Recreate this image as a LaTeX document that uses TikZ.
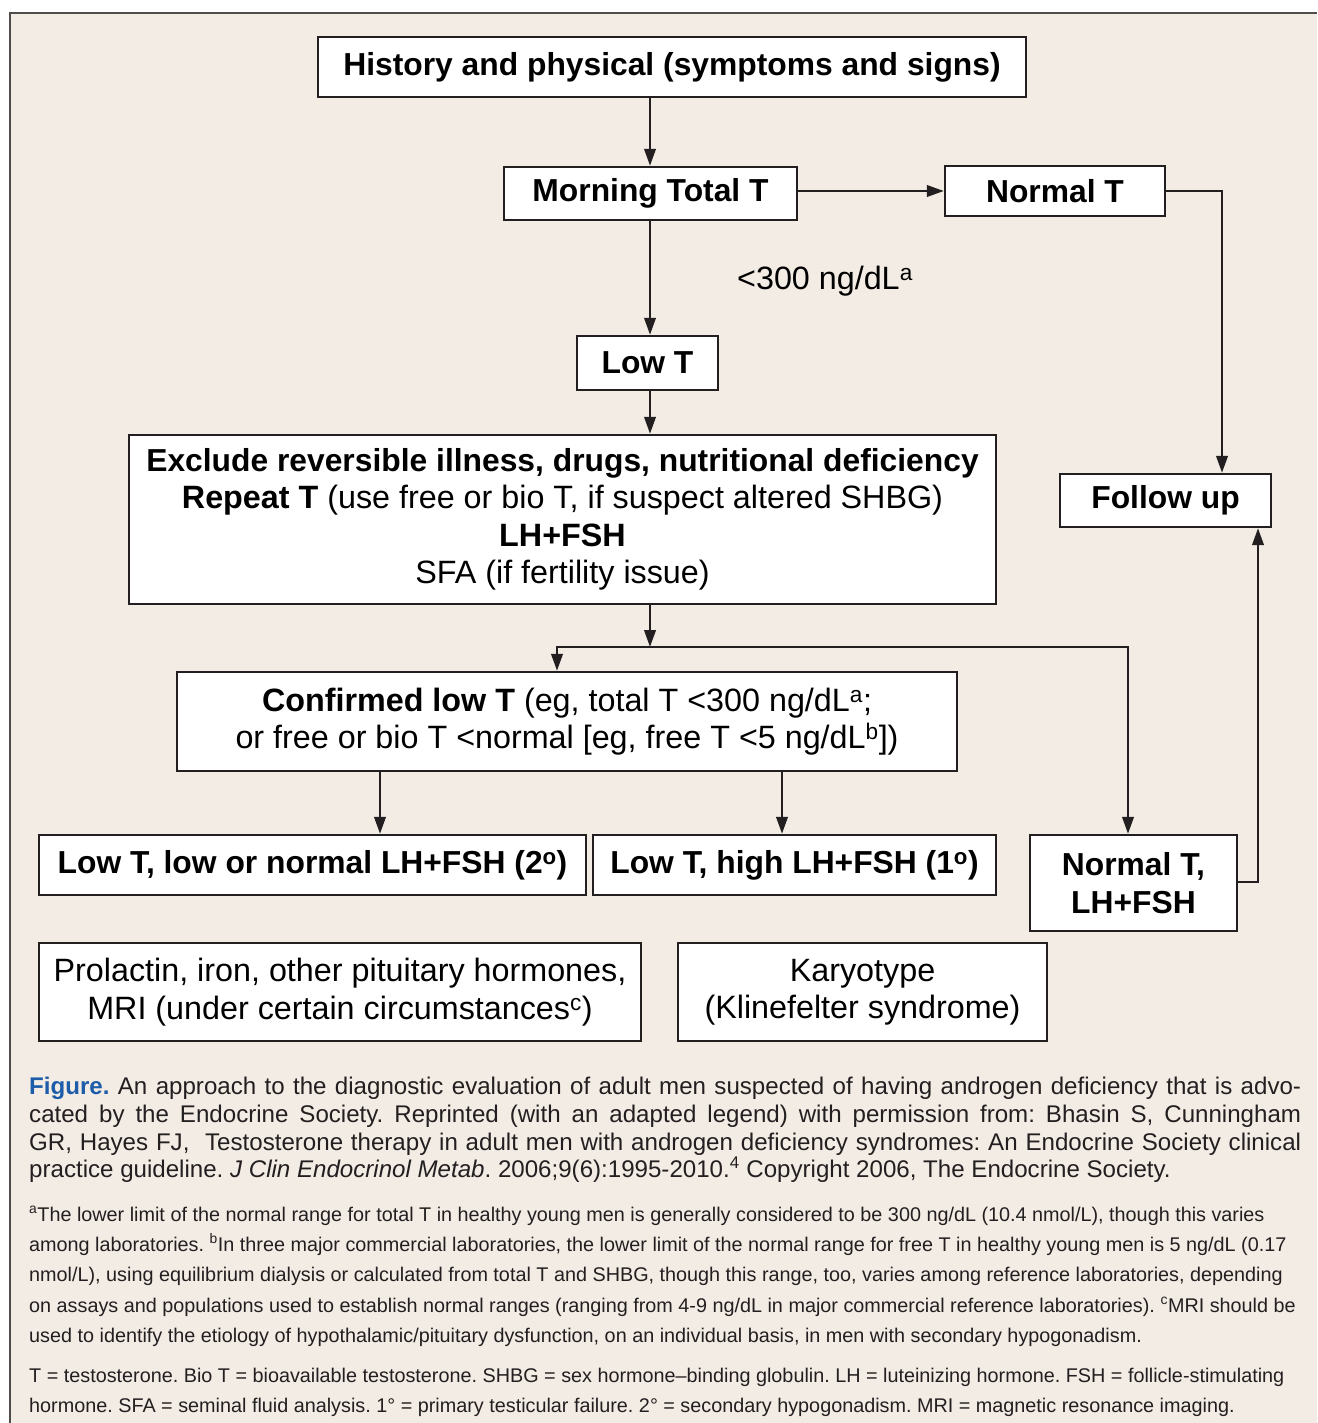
\documentclass[tikz,border=0pt]{standalone}
\usepackage{fontspec}
\setmainfont{Liberation Sans}
\usetikzlibrary{arrows.meta}
\frenchspacing
\definecolor{bg}{RGB}{243,236,229}
\definecolor{ink}{RGB}{35,31,32}
\definecolor{figblue}{RGB}{28,92,168}
\newcommand{\sline}[1]{\makebox[1272pt][s]{#1}}
\tikzset{
  box/.style={draw=ink, line width=2.4pt, fill=white, inner sep=0pt, align=center, text=black,
    font=\fontsize{32.3}{37.5}\selectfont},
  arr/.style={draw=ink, line width=2.4pt, -{Triangle[length=17pt,width=11.5pt]}},
  arrb/.style={draw=ink, line width=2.4pt, {Triangle[length=17pt,width=11.5pt]}-{Triangle[length=17pt,width=11.5pt]}},
}
\begin{document}
\begin{tikzpicture}[x=1pt,y=-1pt]
\useasboundingbox (0,0) rectangle (1317,1423);
\fill[white] (0,0) rectangle (1317,1423);
\fill[bg] (10,13) rectangle (1317,1423);
\draw[ink!80, line width=1.4pt] (10,1423) -- (10,13) -- (1317,13);

% nodes
\node[box, minimum width=708pt, minimum height=60pt, font=\fontsize{31.8}{37.5}\selectfont] (hist) at (672,67) {\textbf{History and physical (symptoms and signs)}};
\node[box, minimum width=293pt, minimum height=53pt, font=\fontsize{31.8}{37.5}\selectfont] (morning) at (650.5,193.5) {\textbf{Morning Total T}};
\node[box, minimum width=220pt, minimum height=50pt, font=\fontsize{31.8}{37.5}\selectfont] (normal) at (1055,191) {\textbf{Normal T}};
\node[box, minimum width=141pt, minimum height=54pt, font=\fontsize{31.8}{37.5}\selectfont] (lowt) at (647.5,363) {\textbf{Low T}};
\node[font=\fontsize{32.3}{37.5}\selectfont, inner sep=0pt] (lbl) at (825,281) {<300 ng/dL\textsuperscript{a}};
\node[box, minimum width=867pt, minimum height=169pt] (excl) at (562.5,519.5)
  {{\fontsize{31.8}{37.5}\selectfont\textbf{Exclude reversible illness, drugs, nutritional deficiency}}\\
   \textbf{Repeat T} (use free or bio T, if suspect altered SHBG)\\
   \textbf{LH+FSH}\\
   SFA (if fertility issue)};
\node[box, minimum width=211pt, minimum height=53pt, font=\fontsize{31.8}{37.5}\selectfont] (follow) at (1165.5,500.5) {\textbf{Follow up}};
\node[box, minimum width=780pt, minimum height=99pt] (conf) at (567,721.5)
  {\textbf{Confirmed low T} (eg, total T <300 ng/dL\textsuperscript{a};\\
   or free or bio T <normal [eg, free T <5 ng/dL\textsuperscript{b}])};
\node[box, minimum width=547pt, minimum height=60pt, font=\fontsize{31.8}{37.5}\selectfont] (sec) at (312.5,865) {\textbf{Low T, low or normal LH+FSH (2\textsuperscript{o})}};
\node[box, minimum width=403pt, minimum height=60pt, font=\fontsize{31.8}{37.5}\selectfont] (prim) at (794.5,865) {\textbf{Low T, high LH+FSH (1\textsuperscript{o})}};
\node[box, minimum width=207pt, minimum height=96pt, font=\fontsize{31.8}{37.5}\selectfont] (normlh) at (1133.5,883) {\textbf{Normal T,}\\\textbf{LH+FSH}};
\node[box, minimum width=602pt, minimum height=98pt] (prol) at (340,992)
  {Prolactin, iron, other pituitary hormones,\\MRI (under certain circumstances\textsuperscript{c})};
\node[box, minimum width=369pt, minimum height=98pt] (kary) at (862.5,992)
  {Karyotype\\(Klinefelter syndrome)};

% helper coordinates
\coordinate (colx) at (650,0);
\coordinate (split) at (650,647);
\coordinate (L) at (557,647);
\coordinate (R) at (1128,647);
\coordinate (c380) at (380,0);
\coordinate (c782) at (782,0);
\coordinate (fuin) at (1222,0);
\coordinate (fuout) at (1258,0);

% connectors
\draw[arr] (hist.south -| colx) -- (morning.north -| colx);
\draw[arr] (morning.east |- normal.west) -- (normal.west);
\draw[arr] (normal.east) -| (follow.north -| fuin);
\draw[arr] (morning.south -| colx) -- (lowt.north -| colx);
\draw[arr] (lowt.south -| colx) -- (excl.north -| colx);
\draw[arr] (excl.south -| colx) -- (split);
\draw[arrb] (conf.north -| L) -- (L) -- (R) -- (normlh.north -| R);
\draw[arr] (conf.south -| c380) -- (sec.north -| c380);
\draw[arr] (conf.south -| c782) -- (prim.north -| c782);
\draw[arr] ([yshift=1pt]normlh.east) -| (follow.south -| fuout);

% caption
\node[anchor=north west, inner sep=0pt, align=left, text=ink,
  font=\fontsize{24.1}{27.7}\selectfont] (cap) at (29,1077)
{\sline{\textcolor{figblue}{\textbf{Figure.}} An approach to the diagnostic evaluation of adult men suspected of having androgen deficiency that is advo-}\\
\sline{cated by the Endocrine Society. Reprinted (with an adapted legend) with permission from: Bhasin S, Cunningham}\\
\sline{GR, Hayes FJ, \ Testosterone therapy in adult men with androgen deficiency syndromes: An Endocrine Society clinical}\\
practice guideline. \textit{J Clin Endocrinol Metab}. 2006;9(6):1995-2010.\textsuperscript{4} Copyright 2006, The Endocrine Society.};

\node[anchor=north west, inner sep=0pt, align=left, text=ink,
  font=\fontsize{19.8}{30.3}\selectfont] (fn) at (29,1206)
{\textsuperscript{a}The lower limit of the normal range for total T in healthy young men is generally considered to be 300 ng/dL (10.4 nmol/L), though this varies\\
among laboratories. \textsuperscript{b}In three major commercial laboratories, the lower limit of the normal range for free T in healthy young men is 5 ng/dL (0.17\\
nmol/L), using equilibrium dialysis or calculated from total T and SHBG, though this range, too, varies among reference laboratories, depending\\
on assays and populations used to establish normal ranges (ranging from 4-9 ng/dL in major commercial reference laboratories). \textsuperscript{c}MRI should be\\
used to identify the etiology of hypothalamic/pituitary dysfunction, on an individual basis, in men with secondary hypogonadism.};

\node[anchor=north west, inner sep=0pt, align=left, text=ink,
  font=\fontsize{19.8}{30.3}\selectfont] (abbr) at (29,1368)
{T = testosterone. Bio T = bioavailable testosterone. SHBG = sex hormone–binding globulin. LH = luteinizing hormone. FSH = follicle-stimulating\\
hormone. SFA = seminal fluid analysis. 1° = primary testicular failure. 2° = secondary hypogonadism. MRI = magnetic resonance imaging.};
\end{tikzpicture}
\end{document}
